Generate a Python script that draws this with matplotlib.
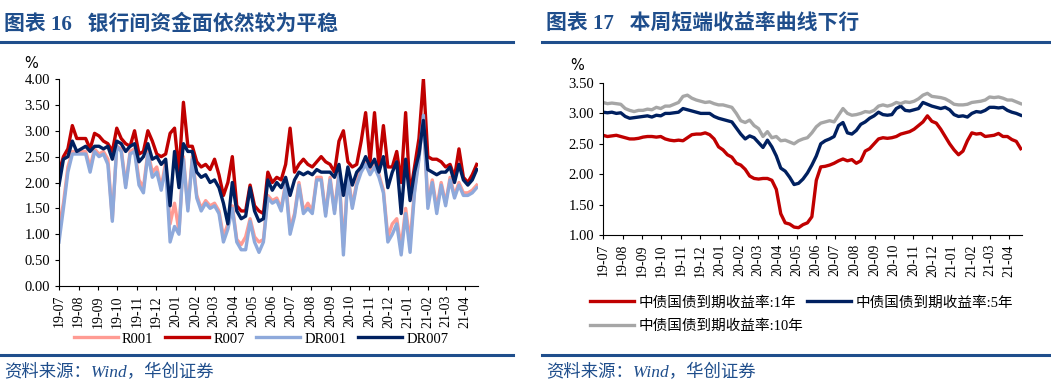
import matplotlib
matplotlib.use('Agg')
import matplotlib.pyplot as plt
import matplotlib.dates as mdates
from matplotlib.lines import Line2D
from matplotlib.ticker import FormatStrFormatter
import pandas as pd

plt.rcParams['font.family'] = ['Liberation Serif', 'Noto Sans CJK SC']

# weekly samples (2019-07-01 .. 2021-04-19)
dates = pd.date_range('2019-07-01', periods=95, freq='7D')

r001 = [1.15, 1.6, 2.3, 2.6, 2.6,
        2.6, 2.6, 2.3, 2.65,
        2.55, 2.6, 2.45, 1.3, 2.7,
        2.65, 1.95, 2.6, 2.65,
        2.05, 1.9, 2.6, 2.2,
        2.3, 1.9, 2.4, 1.2, 1.6,
        1.05, 2.5, 1.5, 2.5,
        1.75, 1.5, 1.65, 1.55,
        1.6, 1.45, 0.95, 1.2, 1.55,
        0.9, 0.8, 0.95, 1.3,
        0.95, 0.85, 0.9, 1.75,
        1.65, 1.7, 1.5, 2.0, 1.1,
        1.4, 2.0, 1.45, 1.6,
        1.45, 2.1, 2.1, 1.4, 2.1,
        1.45, 2.2, 0.75, 2.15,
        1.55, 2.0, 2.3, 2.45,
        2.2, 2.4, 2.15, 1.85, 0.95,
        1.2, 1.3, 0.75, 1.5,
        0.85, 1.85, 2.5, 3.3,
        1.6, 2.05, 1.5, 2.0,
        1.6, 2.1, 1.75, 2.0, 1.8,
        1.8, 1.85, 1.95]

r007 = [2.2, 2.5, 2.65, 3.1, 2.85,
        2.85, 2.85, 2.65, 2.95,
        2.9, 2.8, 2.75, 2.6, 3.05,
        2.85, 2.75, 2.7, 3.0,
        2.55, 2.6, 3.0, 2.8,
        2.55, 2.5, 2.55, 2.95, 3.05,
        2.2, 3.55, 2.7, 2.7,
        2.4, 2.3, 2.35, 2.25,
        2.45, 2.15, 1.75, 2.0, 2.5,
        1.55, 1.45, 1.45, 1.95,
        1.55, 1.45, 1.4, 2.2,
        2.0, 2.1, 2.05, 2.35, 3.05,
        2.2, 2.35, 2.45, 2.35,
        2.3, 2.4, 2.5, 2.4, 2.35,
        2.2, 2.8, 3.0, 2.4,
        2.3, 2.35, 2.8, 3.35,
        2.4, 3.35, 2.3, 3.1, 2.3,
        2.3, 2.6, 2.0, 3.35,
        1.75, 2.3, 2.85, 4.0,
        2.5, 2.45, 2.45, 2.4,
        2.3, 2.35, 2.1, 2.65, 2.1,
        2.0, 2.15, 2.35]

dr001 = [0.85, 1.5, 2.2, 2.55, 2.55,
         2.55, 2.55, 2.2, 2.6,
         2.5, 2.55, 2.35, 1.25, 2.7,
         2.6, 1.9, 2.55, 2.6,
         1.95, 1.8, 2.55, 2.1,
         2.2, 1.85, 2.3, 0.85, 1.15,
         1.0, 2.45, 1.45, 2.45,
         1.7, 1.45, 1.6, 1.5,
         1.55, 1.4, 0.85, 1.1, 1.5,
         0.85, 0.7, 0.7, 1.25,
         0.85, 0.65, 0.85, 1.7,
         1.6, 1.65, 1.45, 1.95, 1.0,
         1.35, 1.95, 1.4, 1.5,
         1.4, 2.05, 2.05, 1.35, 2.05,
         1.4, 2.15, 0.6, 2.1,
         1.5, 1.95, 2.2, 2.35,
         2.15, 2.3, 2.1, 1.8, 0.85,
         1.0, 1.2, 0.6, 1.4,
         0.65, 1.8, 2.45, 3.3,
         1.5, 2.0, 1.4, 1.95,
         1.55, 2.05, 1.7, 1.95, 1.75,
         1.75, 1.8, 1.9]

dr007 = [1.95, 2.45, 2.5, 2.8, 2.6,
         2.65, 2.7, 2.6, 2.7,
         2.7, 2.65, 2.7, 2.45, 2.8,
         2.75, 2.6, 2.7, 2.75,
         2.4, 2.5, 2.75, 2.45,
         2.5, 2.35, 2.45, 1.55, 2.6,
         1.9, 2.75, 2.6, 2.6,
         2.2, 2.1, 2.15, 2.0,
         2.05, 1.9, 1.6, 1.2, 2.0,
         1.45, 1.3, 1.35, 1.9,
         1.45, 1.25, 1.3, 2.05,
         1.85, 2.0, 1.9, 2.1, 1.75,
         2.05, 2.2, 2.15, 2.2,
         2.15, 2.25, 2.2, 2.2, 2.2,
         2.1, 2.35, 1.75, 2.3,
         1.95, 2.2, 2.3, 2.5,
         2.3, 2.45, 2.2, 2.5, 1.9,
         2.2, 2.4, 1.4, 2.45,
         1.65, 2.2, 2.55, 3.2,
         2.25, 2.2, 2.15, 2.2,
         2.2, 2.3, 2.0, 2.35, 2.05,
         1.95, 2.05, 2.25]

y1 = [2.64, 2.62, 2.63, 2.64, 2.62,
      2.60, 2.58, 2.58, 2.59,
      2.61, 2.62, 2.62, 2.61, 2.62,
      2.58, 2.56, 2.55, 2.56,
      2.55, 2.60, 2.65, 2.66,
      2.66, 2.68, 2.65, 2.58, 2.45,
      2.40, 2.32, 2.28, 2.18,
      2.15, 2.08, 1.97, 1.93,
      1.92, 1.93, 1.93, 1.90, 1.75,
      1.35, 1.20, 1.18, 1.13,
      1.12, 1.17, 1.20, 1.30,
      1.90, 2.12, 2.13, 2.15, 2.18,
      2.22, 2.25, 2.22, 2.24,
      2.18, 2.22, 2.38, 2.42, 2.50,
      2.58, 2.60, 2.59, 2.60,
      2.62, 2.66, 2.68, 2.70,
      2.74, 2.80, 2.86, 2.96, 2.87,
      2.84, 2.74, 2.62, 2.50,
      2.40, 2.32, 2.38, 2.55,
      2.68, 2.66, 2.67, 2.62,
      2.63, 2.64, 2.67, 2.62, 2.62,
      2.57, 2.54, 2.42]

y5 = [3.02, 3.01, 3.02, 3.00, 3.01,
      2.95, 2.92, 2.93, 2.94,
      2.95, 2.96, 2.94, 2.97, 2.96,
      3.00, 3.00, 3.01, 3.02,
      3.08, 3.06, 3.04, 3.02,
      3.00, 3.00, 3.00, 2.95, 2.92,
      2.90, 2.88, 2.86, 2.76,
      2.66, 2.58, 2.63, 2.60,
      2.52, 2.44, 2.56, 2.45, 2.30,
      2.10, 2.05, 1.95, 1.83,
      1.85, 1.92, 2.02, 2.15,
      2.30, 2.50, 2.55, 2.58, 2.62,
      2.80, 2.85, 2.68, 2.66,
      2.72, 2.82, 2.86, 2.92, 2.96,
      3.02, 2.98, 2.97, 2.98,
      3.08, 3.12, 3.05, 3.04,
      3.06, 3.08, 3.18, 3.15, 3.12,
      3.10, 3.08, 3.10, 3.06,
      2.98, 2.95, 2.96, 2.94,
      3.00, 3.03, 3.02, 3.05,
      3.10, 3.10, 3.09, 3.10, 3.05,
      3.02, 3.00, 2.97]

y10 = [3.18, 3.16, 3.17, 3.16, 3.15,
       3.08, 3.05, 3.03, 3.05,
       3.05, 3.07, 3.06, 3.10, 3.08,
       3.12, 3.12, 3.15, 3.18,
       3.28, 3.30, 3.25, 3.22,
       3.20, 3.18, 3.19, 3.16, 3.14,
       3.14, 3.12, 3.10, 3.00,
       2.88, 2.85, 2.89, 2.80,
       2.75, 2.62, 2.70, 2.60, 2.62,
       2.55, 2.56, 2.53, 2.50,
       2.55, 2.58, 2.60, 2.68,
       2.78, 2.84, 2.86, 2.88, 2.86,
       2.97, 3.08, 3.00, 2.97,
       2.98, 3.00, 3.03, 3.02, 3.05,
       3.12, 3.14, 3.12, 3.14,
       3.18, 3.16, 3.19, 3.18,
       3.20, 3.24, 3.30, 3.33, 3.28,
       3.27, 3.26, 3.24, 3.20,
       3.15, 3.14, 3.14, 3.15,
       3.18, 3.19, 3.20, 3.22,
       3.27, 3.26, 3.27, 3.25, 3.22,
       3.22, 3.19, 3.16]

W, H = 1051, 389
BLUE = '#1F4E8C'


def fx(px):
    return px / W


def fy(py):
    return 1 - py / H


fig = plt.figure(figsize=(W / 100, H / 100), dpi=100)


def style_axis(ax):
    for s in ['top', 'right']:
        ax.spines[s].set_visible(False)
    ax.tick_params(axis='both', direction='out', length=3, width=0.8)
    ax.tick_params(axis='y', labelsize=10.5)
    ax.tick_params(axis='x', labelsize=10, rotation=90)
    ax.xaxis.set_major_locator(mdates.MonthLocator())
    ax.xaxis.set_major_formatter(mdates.DateFormatter('%y-%m'))
    ax.yaxis.set_major_formatter(FormatStrFormatter('%.2f'))
    ax.set_xlim(pd.Timestamp('2019-07-01'), pd.Timestamp('2021-04-21'))


# ---- left chart
ax1 = fig.add_axes([fx(59), fy(286), fx(478 - 59), (286 - 79) / H])
ax1.plot(dates, r001, color='#FF9B93', lw=2.4, label='R001')
ax1.plot(dates, r007, color='#C00000', lw=2.4, label='R007')
ax1.plot(dates, dr001, color='#8EA9DB', lw=2.4, label='DR001')
ax1.plot(dates, dr007, color='#002060', lw=2.4, label='DR007')
ax1.set_ylim(0, 4)
ax1.set_yticks([i * 0.5 for i in range(9)])
style_axis(ax1)
fig.text(fx(31), fy(63), '%', fontsize=10.5, ha='center', va='center', family='DejaVu Sans')
h, l = ax1.get_legend_handles_labels()
fig.legend(h, l, loc='center', bbox_to_anchor=(fx(261), fy(339)), ncol=4,
           frameon=False, fontsize=10.5, handlelength=3, handletextpad=0.3,
           columnspacing=0.8)

# ---- right chart
ax2 = fig.add_axes([fx(603), fy(235), fx(1022 - 603), (235 - 83) / H])
l1, = ax2.plot(dates, y1, color='#C00000', lw=2.4)
l5, = ax2.plot(dates, y5, color='#002060', lw=2.4)
l10, = ax2.plot(dates, y10, color='#A6A6A6', lw=2.4)
ax2.set_ylim(1, 3.5)
ax2.set_yticks([1 + i * 0.5 for i in range(6)])
style_axis(ax2)
fig.text(fx(577), fy(66), '%', fontsize=10.5, ha='center', va='center', family='DejaVu Sans')
fig.legend([l1, l10, l5],
           ['中债国债到期收益率:1年', '中债国债到期收益率:10年', '中债国债到期收益率:5年'],
           loc='upper left', bbox_to_anchor=(fx(590), fy(296)), ncol=2,
           frameon=False, fontsize=10.5, handlelength=3, handletextpad=0.3,
           columnspacing=0.3, labelspacing=0.66, borderaxespad=0, borderpad=0)

# ---- titles, rules and source notes
for x0, x1, title in [(0, 513, '图表 16   银行间资金面依然较为平稳'),
                      (542, 1051, '图表 17   本周短端收益率曲线下行')]:
    fig.text(fx(x0 + 4), fy(25), title, fontsize=15, fontweight='bold',
             color=BLUE, va='center')
    fig.add_artist(Line2D([fx(x0), fx(x1)], [fy(42), fy(42)], color=BLUE, lw=2.2))
    fig.add_artist(Line2D([fx(x0), fx(x1)], [fy(355), fy(355)], color=BLUE, lw=2.2))
    fig.text(fx(x0 + 4), fy(373), '资料来源：Wind，华创证券', fontsize=12.5,
             style='italic', color=BLUE, va='center')

fig.savefig('out.png', dpi=100)
